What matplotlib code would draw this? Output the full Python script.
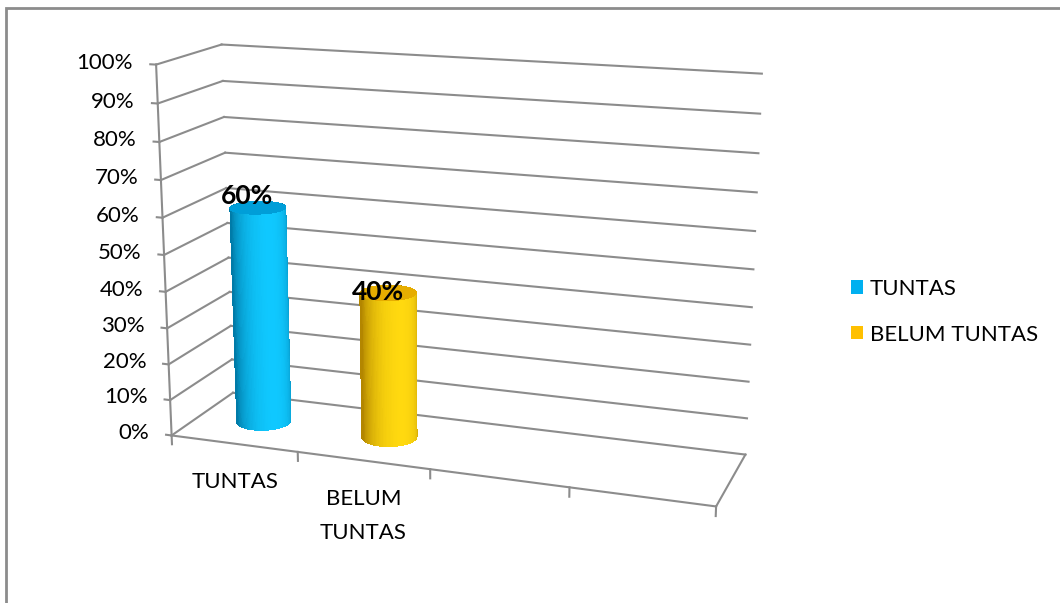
import numpy as np
import matplotlib.pyplot as plt
from matplotlib.patches import Patch, Rectangle
from matplotlib.colors import to_rgb
from mpl_toolkits.mplot3d import proj3d

categories = ["TUNTAS", "BELUM\nTUNTAS", "", ""]
series = ["TUNTAS", "BELUM TUNTAS"]
values = [0.60, 0.40]
colors = ["#00b0f0", "#ffc000"]
zticks = [0.0, 0.1, 0.2, 0.3, 0.4, 0.5, 0.6, 0.7, 0.8, 0.9, 1.0]
ztick_labels = ["0%", "10%", "20%", "30%", "40%", "50%", "60%", "70%", "80%", "90%", "100%"]

plt.rcParams['font.family'] = ['Lato', 'DejaVu Sans']
grid = "#8c8c8c"

fig = plt.figure(figsize=(10.6, 6.03), dpi=100)
ax = fig.add_axes([-0.025, -0.02, 0.89, 1.14], projection='3d', computed_zorder=False)
ax.set_proj_type('persp', focal_length=0.5)
ax.view_init(elev=15, azim=-70.5)
nx = len(categories)
ax.set_xlim(0, nx)
ax.set_ylim(0, 1)
ax.set_zlim(0, 1)
aspect = (3.1, 0.78, 2.1)
ax.set_box_aspect(aspect, zoom=1.0)
ax.set_axis_off()


def put(x, y, z, s, **kw):
    # place a flat text at the projected position of a 3d point
    px, py, _ = proj3d.proj_transform(x, y, z, ax.get_proj())
    return ax.text2D(px, py, s, transform=ax.transData, **kw)


# walls: horizontal gridlines on left and back wall
for z in zticks:
    ax.plot([0, 0], [0, 1], [z, z], color=grid, lw=1.5, zorder=1)
    ax.plot([0, nx], [1, 1], [z, z], color=grid, lw=1.5, zorder=1)
    ax.plot([-0.045, 0], [0, 0], [z, z], color=grid, lw=1.5, zorder=1)

# floor edges and vertical axis
ax.plot([0, nx], [0, 0], [0, 0], color=grid, lw=1.5, zorder=1)
ax.plot([nx, nx], [0, 1], [0, 0], color=grid, lw=1.5, zorder=1)
ax.plot([0, 0], [0, 0], [0, 1], color=grid, lw=1.5, zorder=1)
for i in range(nx + 1):
    ax.plot([i, i], [0, 0], [0, -0.025], color=grid, lw=1.5, zorder=1)

for z, lab in zip(zticks, ztick_labels):
    put(-0.18, 0, z, lab, ha='right', va='center', fontsize=16, zorder=6)

for i, cat in enumerate(categories):
    if cat:
        put(i + 0.5, 0, -0.08, cat, ha='center', va='top', fontsize=16,
            linespacing=1.85, zorder=6)

# cylinders
R = 0.155
sx = aspect[0] / nx
sy = aspect[1] / 1.0
theta = np.linspace(0, 2 * np.pi, 121)
az = np.deg2rad(-70 + 25)
L = np.array([np.cos(az), np.sin(az)])
label_dz = [0.03, 0.0]
for i, (v, c) in enumerate(zip(values, colors)):
    cx, cy = i + 0.5, 0.5
    T, Zs = np.meshgrid(theta, np.linspace(0.0, v, 25))
    X = cx + R / sx * np.cos(T)
    Y = cy + R / sy * np.sin(T)
    f = np.clip(np.cos(T) * L[0] + np.sin(T) * L[1], 0, 1) ** 0.9
    base = np.array(to_rgb(c))
    dark = base * 0.70
    light = np.clip(base * 1.05 + 0.06, 0, 1)
    fc = dark[None, None, :] + (light - dark)[None, None, :] * f[..., None]
    ax.plot_surface(X, Y, Zs, facecolors=fc, shade=False, linewidth=0,
                    antialiased=False, rstride=1, cstride=1, zorder=3 + 2 * i)
    rr, TT = np.meshgrid(np.array([0.0, 1.0]), theta)
    Xc = cx + rr * R / sx * np.cos(TT)
    Yc = cy + rr * R / sy * np.sin(TT)
    Zc = np.full_like(Xc, v)
    ax.plot_surface(Xc, Yc, Zc, color=base * 0.9, shade=False, linewidth=0,
                    antialiased=False, zorder=4 + 2 * i)
    put(cx - 0.08, cy, v + label_dz[i], f"{int(round(v * 100))}%", ha='center',
        va='center', fontsize=19, fontweight='bold', zorder=10)

handles = [Patch(facecolor=c, edgecolor='none') for c in colors]
fig.legend(handles, series, loc='center left', bbox_to_anchor=(0.784, 0.483),
           frameon=False, fontsize=16, handlelength=0.55, handleheight=0.55,
           handletextpad=0.3, labelspacing=1.15)

fig.patches.append(Rectangle((0.0057, -0.1), 1.2, 1.087, transform=fig.transFigure,
                             fill=False, edgecolor="#8c8c8c", lw=2))

fig.savefig("out.png", dpi=100)
